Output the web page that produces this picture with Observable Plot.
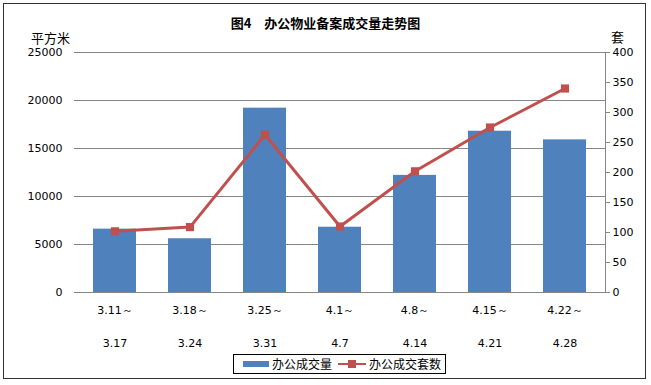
<!DOCTYPE html>
<html><head><meta charset="utf-8">
<script src="https://cdn.jsdelivr.net/npm/d3@7"></script>
<script src="https://cdn.jsdelivr.net/npm/@observablehq/plot@0.6"></script>
<style>
body{margin:0;background:#fff;}
#wrap{position:relative;width:651px;height:385px;overflow:hidden;font-family:"DejaVu Sans",sans-serif;}
#border{position:absolute;left:3px;top:3px;width:643px;height:376px;border:1px solid #333;box-sizing:border-box;}
#chart{position:absolute;left:0;top:0;}
.lbl{position:absolute;font-family:"Noto Sans CJK SC",sans-serif;color:#000;white-space:nowrap;line-height:1;}
#title{left:0;width:651px;top:16px;text-align:center;font-weight:bold;font-size:13px;}
#yl{left:31px;top:31px;font-size:13px;}
#yr{left:611px;top:30px;font-size:13px;}
#legend{position:absolute;left:233px;top:354px;width:213px;height:20px;border:1px solid #000;box-sizing:border-box;display:flex;align-items:center;white-space:nowrap;font-family:"Noto Sans CJK SC",sans-serif;font-size:12px;line-height:1;}
#legend span{flex:none;}
</style>
</head><body>
<div id="wrap">
  <div id="chart"></div>
  <div id="border"></div>
  <div class="lbl" id="title">图4　办公物业备案成交量走势图</div>
  <div class="lbl" id="yl">平方米</div>
  <div class="lbl" id="yr">套</div>
  <div id="legend"></div>
</div>
<script>
const weekStart = ["3.11～","3.18～","3.25～","4.1～","4.8～","4.15～","4.22～"];
const weekEnd = ["3.17","3.24","3.31","4.7","4.14","4.21","4.28"];
const areaValues = [6600, 5600, 19200, 6800, 12200, 16800, 15900];
const unitValues = [102, 109, 263, 110, 202, 275, 340];
const leftTicks = [0, 5000, 10000, 15000, 20000, 25000];
const rightTicks = [0, 50, 100, 150, 200, 250, 300, 350, 400];
const seriesNames = ["办公成交量", "办公成交套数"];

const barColor = "#4F81BD", lineColor = "#C0504D";
const ratio = 25000 / 400;

const data = weekStart.map((s, i) => ({start: s, end: weekEnd[i], area: areaValues[i], units: unitValues[i]}));

const chart = Plot.plot({
  width: 651, height: 385,
  marginLeft: 74, marginRight: 46, marginTop: 52, marginBottom: 93,
  x: {type: "band", domain: weekStart, paddingInner: 0.433, paddingOuter: 0.219, axis: null},
  y: {domain: [0, 25000], axis: null},
  style: {fontFamily: "DejaVu Sans", fontSize: "11px", color: "#000", background: "transparent"},
  marks: [
    Plot.ruleY(leftTicks, {stroke: "#868686", strokeOpacity: 1}),
    Plot.barY(data, {x: "start", y: "area", fill: barColor}),
    Plot.line(data, {x: "start", y: d => d.units * ratio, stroke: lineColor, strokeWidth: 3}),
    Plot.dot(data, {x: "start", y: d => d.units * ratio, symbol: "square", fill: lineColor, r: 4.6}),
    Plot.axisY(leftTicks, {anchor: "left", label: null, tickSize: 0, tickPadding: 12, tickFormat: d => String(d)}),
    Plot.axisY(rightTicks.map(v => v * ratio), {anchor: "right", label: null, tickSize: 4, tickPadding: 3, stroke: "#868686", tickFormat: d => String(Math.round(d / ratio))}),
    Plot.frame({anchor: "right", stroke: "#868686"}),
    Plot.text(data, {x: "start", text: "start", frameAnchor: "bottom", dy: 21}),
    Plot.text(data, {x: "start", text: "end", frameAnchor: "bottom", dy: 54})
  ]
});
document.getElementById("chart").appendChild(chart);

// legend
const lg = document.getElementById("legend");
lg.innerHTML = `
<span style="display:inline-block;width:26px;height:6px;background:${barColor};margin-left:9px;"></span>
<span style="margin-left:3px;">${seriesNames[0]}</span>
<span style="position:relative;display:inline-block;width:28px;height:10px;margin-left:6px;">
  <span style="position:absolute;left:0;top:4px;width:28px;height:2px;background:${lineColor};"></span>
  <span style="position:absolute;left:10px;top:1px;width:8px;height:8px;background:${lineColor};"></span>
</span>
<span style="margin-left:3px;">${seriesNames[1]}</span>`;
</script>
</body></html>
